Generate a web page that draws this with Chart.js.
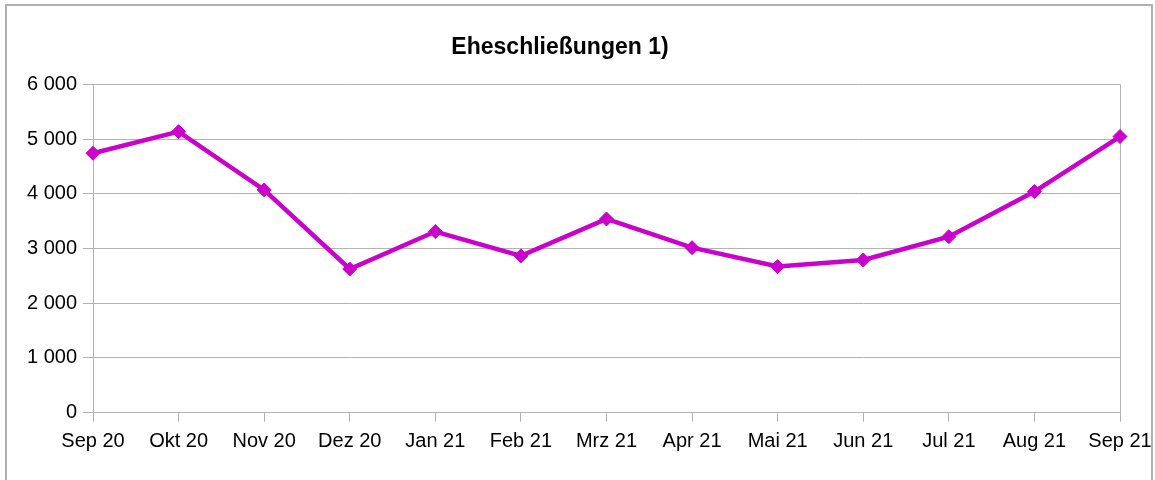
<!DOCTYPE html>
<html>
<head>
<meta charset="utf-8">
<script src="https://cdn.jsdelivr.net/npm/chart.js@4/dist/chart.umd.min.js"></script>
<style>
  body { margin: 0; background: #fff; }
  #wrap { position: relative; width: 1155px; height: 480px; overflow: hidden; }
  #frame { position: absolute; left: 5px; top: 4px; width: 1144px; height: 490px; border: 2px solid #b0b0b0; }
  canvas { position: absolute; left: 0; top: 0; }
</style>
</head>
<body>
<div id="wrap">
  <div id="frame"></div>
  <canvas id="myChart" width="1155" height="480"></canvas>
</div>
<script>
const months = ["Sep 20", "Okt 20", "Nov 20", "Dez 20", "Jan 21", "Feb 21", "Mrz 21",
  "Apr 21", "Mai 21", "Jun 21", "Jul 21", "Aug 21", "Sep 21"];
const marriages = [4740, 5135, 4070, 2625, 3310, 2865, 3540, 3015, 2670, 2790, 3215, 4040, 5045];
const yTicks = [0, 1000, 2000, 3000, 4000, 5000, 6000];

const gridColor = "#b3b3b3";
const lineColor = "#cc00cc";

function fmt(v) {
  return String(v).replace(/\B(?=(\d{3})+(?!\d))/g, " ");
}

Chart.defaults.font.family = "'Liberation Sans', Arial, sans-serif";
Chart.defaults.color = "#000";

new Chart(document.getElementById("myChart"), {
  type: "line",
  data: {
    labels: months,
    datasets: [
      {
        label: "Eheschließungen",
        data: marriages,
        borderColor: lineColor,
        backgroundColor: lineColor,
        borderWidth: 4.5,
        tension: 0,
        pointStyle: "rectRot",
        pointRadius: 7,
        pointBorderWidth: 1,
      },
    ],
  },
  options: {
    responsive: false,
    animation: false,
    layout: { padding: { top: 34, right: 35, bottom: 0, left: 0 } },
    plugins: {
      legend: { display: false },
      tooltip: { enabled: false },
      title: {
        display: true,
        text: "Eheschließungen 1)",
        font: { size: 23, weight: "bold" },
        color: "#000",
        padding: { top: 0, bottom: 22.7 },
      },
    },
    scales: {
      x: {
        offset: false,
        grid: {
          drawOnChartArea: true,
          color: (ctx) => (ctx.index === months.length - 1 ? gridColor : "transparent"),
          tickColor: gridColor,
          tickLength: 9,
        },
        border: { display: true, color: gridColor },
        ticks: { font: { size: 20 }, padding: 8, maxRotation: 0, autoSkip: false },
        afterFit: (scale) => {
          scale.height = 67.3;
          scale.paddingRight = 0;
          scale.paddingLeft = 0;
        },
      },
      y: {
        min: 0,
        max: 6000,
        afterBuildTicks: (scale) => { scale.ticks = yTicks.map((v) => ({ value: v })); },
        grid: { color: gridColor, tickColor: gridColor, tickLength: 10 },
        border: { display: true, color: gridColor },
        ticks: { font: { size: 20 }, padding: 6, callback: (v) => fmt(v) },
        afterFit: (scale) => { scale.width = 93; },
      },
    },
  },
});
</script>
</body>
</html>
